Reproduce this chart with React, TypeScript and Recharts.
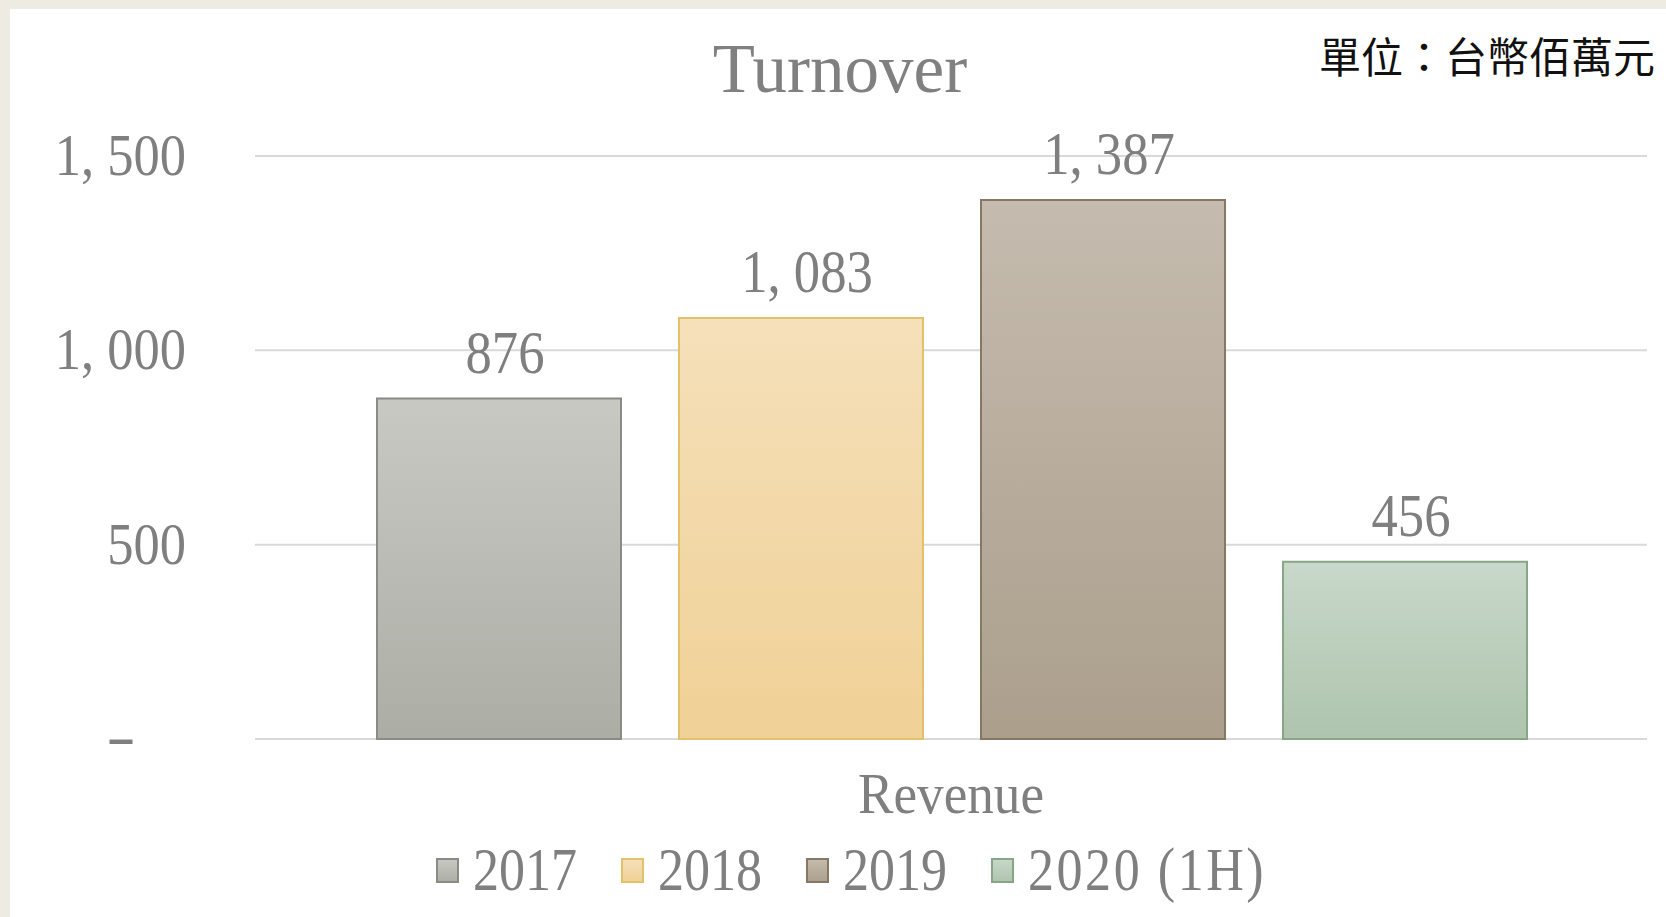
import { BarChart, Bar, XAxis, YAxis, CartesianGrid, Legend, LabelList } from "recharts";

const categories = ["Revenue"];
const seriesNames = ["2017", "2018", "2019", "2020 (1H)"];
const revenue = [876, 1083, 1387, 456];
const yTicks = [0, 500, 1000, 1500];

const fills = [
  { top: "#C8C9C3", bottom: "#ACADA5", stroke: "#8A8B85" },
  { top: "#F5E0BA", bottom: "#F0D196", stroke: "#E3C06C" },
  { top: "#C5BBAE", bottom: "#AB9F8C", stroke: "#867864" },
  { top: "#C8D8CA", bottom: "#AEC4AD", stroke: "#86A686" },
];

const keys = seriesNames.map((_, i) => `s${i}`);
const data = categories.map((name) => {
  const row: Record<string, string | number> = { name };
  keys.forEach((k, i) => (row[k] = revenue[i]));
  return row;
});

const FONT = "'Liberation Serif', serif";
const GREY = "#7F7F7F";

const fmt = (v: number) => v.toLocaleString("en-US").replace(",", ", ");

function YTick(props: any) {
  const { x, y, payload } = props;
  if (payload.value === 0) {
    return (
      <text
        transform={`translate(${x - 134},${y + 17}) scale(1.5,1)`}
        textAnchor="middle"
        fontFamily={FONT}
        fontSize={59}
        fill={GREY}
      >
        -
      </text>
    );
  }
  return (
    <text
      transform={`translate(${x - 69},${y + 19}) scale(0.89,1)`}
      textAnchor="end"
      fontFamily={FONT}
      fontSize={59}
      fill={GREY}
    >
      {fmt(payload.value)}
    </text>
  );
}

function XTick(props: any) {
  const { x, y, payload } = props;
  return (
    <text
      transform={`translate(${x},${y + 74}) scale(0.95,1)`}
      textAnchor="middle"
      fontFamily={FONT}
      fontSize={56}
      fill={GREY}
    >
      {payload.value}
    </text>
  );
}

function ValueLabel(props: any) {
  const { x, y, width, value } = props;
  return (
    <text
      transform={`translate(${x + width / 2 + 6},${y - 26}) scale(0.85,1)`}
      textAnchor="middle"
      fontFamily={FONT}
      fontSize={62}
      fill={GREY}
    >
      {fmt(value)}
    </text>
  );
}

function LegendBox(props: any) {
  const items = props.payload || [];
  return (
    <svg width={1637} height={88} style={{ display: "block" }}>
      {items.map((item: any, i: number) => {
        const lx = 426 + i * 185;
        return (
          <g key={item.value}>
            <rect
              x={lx + 1}
              y={30}
              width={21}
              height={23}
              fill={`url(#grad${i})`}
              stroke={fills[i].stroke}
              strokeWidth={2}
            />
            <text
              transform={`translate(${lx + 37},${61}) scale(0.84,1)`}
              fontFamily={FONT}
              fontSize={62}
              fill={GREY}
              letterSpacing={i === 3 ? 3 : 0}
            >
              {item.value}
            </text>
          </g>
        );
      })}
    </svg>
  );
}

export default function App() {
  return (
    <div style={{ position: "relative", width: 1666, height: 917, background: "#EEEBE3", overflow: "hidden" }}>
      <style>{"body{margin:0}"}</style>
      <div style={{ position: "absolute", left: 10, top: 9, width: 1656, height: 908, background: "#FFFFFF" }}>
        <BarChart
          width={1656}
          height={908}
          data={data}
          margin={{ top: 147, right: 19, left: 0, bottom: 0 }}
          barCategoryGap={122}
          barGap={58}
        >
          <CartesianGrid vertical={false} stroke="#D9D9D9" strokeWidth={2} />
          <XAxis
            dataKey="name"
            axisLine={false}
            tickLine={false}
            tickSize={0}
            tickMargin={0}
            height={90}
            tick={<XTick />}
          />
          <YAxis
            domain={[0, 1500]}
            ticks={yTicks}
            axisLine={false}
            tickLine={false}
            tickSize={0}
            tickMargin={0}
            width={245}
            tick={<YTick />}
          />
          <Legend verticalAlign="bottom" height={88} content={<LegendBox />} />
          {keys.map((k, i) => (
            <Bar
              key={k}
              dataKey={k}
              name={seriesNames[i]}
              fill={`url(#grad${i})`}
              stroke={fills[i].stroke}
              strokeWidth={2}
              isAnimationActive={false}
            >
              <LabelList dataKey={k} content={<ValueLabel />} />
            </Bar>
          ))}
        </BarChart>
      </div>
      <svg
        width={1666}
        height={917}
        style={{ position: "absolute", left: 0, top: 0, pointerEvents: "none" }}
      >
        <defs>
          {fills.map((f, i) => (
            <linearGradient key={i} id={`grad${i}`} x1="0" y1="0" x2="0" y2="1">
              <stop offset="0%" stopColor={f.top} />
              <stop offset="100%" stopColor={f.bottom} />
            </linearGradient>
          ))}
        </defs>
        <text x={840} y={92} textAnchor="middle" fontFamily={FONT} fontSize={69} fill="#808080">
          Turnover
        </text>
        <text
          x={1655}
          y={73}
          textAnchor="end"
          fontFamily="'Noto Sans CJK TC', sans-serif"
          fontSize={42}
          fill="#111111"
        >
          單位：台幣佰萬元
        </text>
      </svg>
    </div>
  );
}
